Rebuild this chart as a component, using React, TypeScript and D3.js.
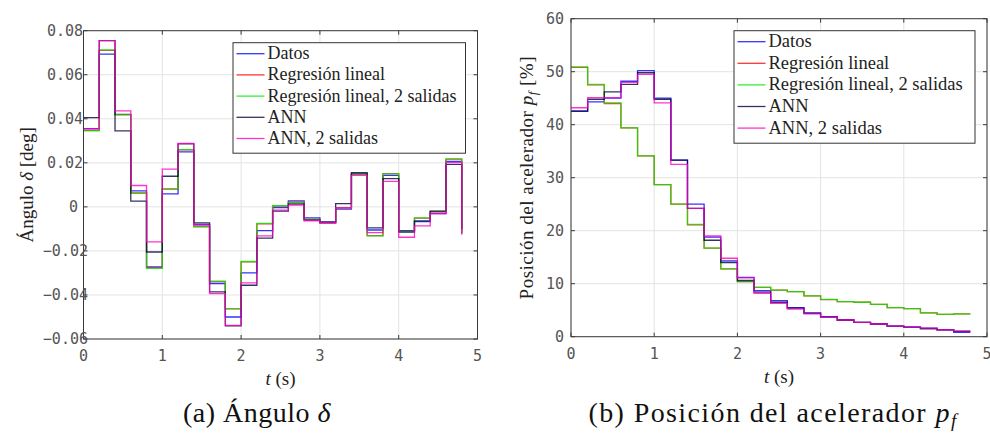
import React from "react";
import * as d3 from "d3";

const times = [0, 0.2, 0.4, 0.6, 0.8, 1.0, 1.2, 1.4, 1.6, 1.8, 2.0, 2.2, 2.4, 2.6, 2.8, 3.0, 3.2, 3.4, 3.6, 3.8, 4.0, 4.2, 4.4, 4.6, 4.8];

const seriesNames = ["Datos", "Regresión lineal", "Regresión lineal, 2 salidas", "ANN", "ANN, 2 salidas"];
const seriesColors = ["#0000ff", "#ff0000", "#00ee00", "#00003a", "#ff00c0"];

// (a) steering angle delta [deg]
const deltaDatos = [0.0355, 0.0694, 0.042, 0.0073, -0.0273, 0.0059, 0.025, -0.008, -0.0348, -0.05, -0.03, -0.0108, -0.0003, 0.0027, -0.005, -0.0067, -0.001, 0.015, -0.0105, 0.0143, -0.0108, -0.0067, -0.003, 0.0207, -0.012];
const deltaRL = [0.0347, 0.0711, 0.0419, 0.0063, -0.0277, 0.0081, 0.0259, -0.009, -0.0339, -0.0463, -0.025, -0.0077, 0.0004, 0.0021, -0.0057, -0.0071, -0.0004, 0.0149, -0.0131, 0.0151, -0.0111, -0.0051, -0.0021, 0.0217, -0.012];
const deltaRL2 = [0.0345, 0.0713, 0.0418, 0.0061, -0.0279, 0.0083, 0.026, -0.0091, -0.0338, -0.0462, -0.0248, -0.0075, 0.0005, 0.002, -0.0058, -0.007, -0.0003, 0.015, -0.0132, 0.015, -0.0112, -0.005, -0.0022, 0.0218, -0.012];
const deltaANN = [0.0405, 0.0755, 0.0345, 0.0026, -0.0205, 0.0139, 0.0286, -0.0073, -0.0386, -0.054, -0.0356, -0.0142, -0.0019, 0.0013, -0.006, -0.0072, 0.0015, 0.0155, -0.0095, 0.0128, -0.0115, -0.0064, -0.0019, 0.0193, -0.01];
const deltaANN2 = [0.0354, 0.0755, 0.0436, 0.0097, -0.0159, 0.0171, 0.0288, -0.0083, -0.0394, -0.0538, -0.0345, -0.0132, -0.0015, 0.0008, -0.0063, -0.0072, -0.0004, 0.0143, -0.0117, 0.0116, -0.0138, -0.0086, -0.003, 0.0202, -0.0127];

// (b) accelerator position p_f [%]
const pfDatos = [42.6, 44.3, 45.0, 48.2, 50.2, 45.0, 33.3, 25.0, 18.8, 14.3, 11.2, 8.7, 6.8, 5.5, 4.5, 3.8, 3.2, 2.7, 2.4, 2.0, 1.8, 1.6, 1.3, 0.8, 0.8];
const pfRL = [50.8, 47.5, 44.0, 39.4, 34.1, 28.7, 25.0, 21.1, 16.7, 12.8, 10.4, 9.3, 8.8, 8.5, 7.7, 7.0, 6.6, 6.5, 6.1, 5.5, 5.3, 4.5, 4.2, 4.3, 4.3];
const pfRL2 = [50.9, 47.6, 44.1, 39.4, 34.1, 28.7, 25.0, 21.2, 16.7, 12.8, 10.4, 9.3, 8.8, 8.5, 7.7, 7.05, 6.6, 6.5, 6.1, 5.5, 5.3, 4.5, 4.2, 4.3, 4.3];
const pfANN = [42.5, 44.8, 46.2, 47.6, 49.8, 44.8, 33.3, 24.2, 18.2, 14.0, 10.6, 8.4, 6.5, 5.4, 4.4, 3.7, 3.1, 2.7, 2.4, 2.0, 1.8, 1.5, 1.3, 1.0, 1.0];
const pfANN2 = [43.2, 45.1, 45.1, 48.0, 49.5, 44.1, 32.5, 24.2, 19.0, 14.8, 11.1, 8.2, 6.3, 5.2, 4.3, 3.7, 3.15, 2.7, 2.4, 2.0, 1.8, 1.6, 1.3, 1.1, 1.1];

const xTicks = [0, 1, 2, 3, 4, 5];
const deltaTicks = [-0.06, -0.04, -0.02, 0, 0.02, 0.04, 0.06, 0.08];
const deltaTickLabels = ["\u22120.06", "\u22120.04", "\u22120.02", "0", "0.02", "0.04", "0.06", "0.08"];
const pfTicks = [0, 10, 20, 30, 40, 50, 60];
const pfTickLabels = ["0", "10", "20", "30", "40", "50", "60"];

const SERIF = "'Liberation Serif', 'Times New Roman', serif";
const MONO = "'DejaVu Sans Mono', monospace";

type PanelProps = {
  x0: number; x1: number; y0: number; y1: number;
  yDomain: [number, number];
  yTicks: number[]; yTickLabels: string[];
  series: number[][];
  legendW: number; legendFont: number; legendStep: number;
  yLabel: React.ReactNode; yLabelX: number; yLabelSpacing: number;
  labelEndFn: (s: string) => number;
};

function Panel(p: PanelProps) {
  const x = d3.scaleLinear().domain([0, 5]).range([p.x0, p.x1]);
  const y = d3.scaleLinear().domain(p.yDomain).range([p.y1, p.y0]);
  const line = d3.line<[number, number]>().x((d) => x(d[0])).y((d) => y(d[1])).curve(d3.curveStepAfter);
  const tick = 4;
  const lx = p.x1 - 12 - p.legendW;
  const ly = p.y0 + 12;
  const lh = p.legendStep * 5 + 4.5;
  return (
    <g>
      {xTicks.map((t) => (
        <line key={"gx" + t} x1={x(t)} x2={x(t)} y1={p.y0} y2={p.y1} stroke="#e3e3e3" strokeWidth={1} />
      ))}
      {p.yTicks.map((t) => (
        <line key={"gy" + t} x1={p.x0} x2={p.x1} y1={y(t)} y2={y(t)} stroke="#e3e3e3" strokeWidth={1} />
      ))}
      {p.series.map((vals, i) => (
        <path
          key={"s" + i}
          d={line(times.map((t, k) => [t, vals[k]] as [number, number])) || ""}
          fill="none"
          stroke={seriesColors[i]}
          strokeOpacity={0.8}
          strokeWidth={1.3}
        />
      ))}
      <rect x={p.x0} y={p.y0} width={p.x1 - p.x0} height={p.y1 - p.y0} fill="none" stroke="#3a3a3a" strokeWidth={1} />
      {xTicks.map((t) => (
        <g key={"tx" + t}>
          <line x1={x(t)} x2={x(t)} y1={p.y1} y2={p.y1 - tick} stroke="#3a3a3a" />
          <line x1={x(t)} x2={x(t)} y1={p.y0} y2={p.y0 + tick} stroke="#3a3a3a" />
          <text x={x(t)} y={p.y1 + 22} textAnchor="middle" fontFamily={MONO} fontSize={15} fill="#555">
            {String(t)}
          </text>
        </g>
      ))}
      {p.yTicks.map((t, i) => (
        <g key={"ty" + t}>
          <line x1={p.x0} x2={p.x0 + tick} y1={y(t)} y2={y(t)} stroke="#3a3a3a" />
          <line x1={p.x1} x2={p.x1 - tick} y1={y(t)} y2={y(t)} stroke="#3a3a3a" />
          <text x={p.labelEndFn(p.yTickLabels[i])} y={y(t) + 5} textAnchor="end" fontFamily={MONO} fontSize={15} fill="#555">
            {p.yTickLabels[i]}
          </text>
        </g>
      ))}
      <text x={(p.x0 + p.x1) / 2} y={p.y1 + 46} textAnchor="middle" fontFamily={SERIF} fontSize={19} fill="#222">
        <tspan fontStyle="italic">t</tspan> (s)
      </text>
      <text
        transform={`translate(${p.yLabelX},${(p.y0 + p.y1) / 2}) rotate(-90)`}
        textAnchor="middle"
        fontFamily={SERIF}
        fontSize={19}
        letterSpacing={p.yLabelSpacing}
        fill="#222"
      >
        {p.yLabel}
      </text>
      <rect x={lx} y={ly} width={p.legendW} height={lh} fill="#fff" stroke="#333" strokeWidth={1} />
      {seriesNames.map((n, i) => {
        const yy = ly + 11 + i * p.legendStep;
        return (
          <g key={"lg" + i}>
            <line x1={lx + 3.5} x2={lx + 31.5} y1={yy} y2={yy} stroke={seriesColors[i]} strokeOpacity={0.8} strokeWidth={1.3} />
            <text x={lx + 34.5} y={yy + 5.5} fontFamily={SERIF} fontSize={p.legendFont} fill="#222">
              {n}
            </text>
          </g>
        );
      })}
    </g>
  );
}

export default function App() {
  return (
    <svg
      width={990}
      height={438}
      viewBox="0 0 990 438"
      style={{ position: "absolute", left: 0, top: 0, background: "#fff" }}
    >
      <rect x={0} y={0} width={990} height={438} fill="#fff" />
      <Panel
        x0={83.5}
        x1={477.5}
        y0={30.7}
        y1={339}
        yDomain={[-0.06, 0.08]}
        yTicks={deltaTicks}
        yTickLabels={deltaTickLabels}
        series={[deltaDatos, deltaRL, deltaRL2, deltaANN, deltaANN2]}
        legendW={232.5}
        legendFont={18}
        legendStep={21.2}
        yLabelX={33}
        yLabelSpacing={0}
        yLabel={
          <>
            Ángulo <tspan fontStyle="italic">δ</tspan> [deg]
          </>
        }
        labelEndFn={(s) => 78 + (s.includes(".") ? 5 : 0) + (s.startsWith("\u2212") ? 5 : 0)}
      />
      <Panel
        x0={571}
        x1={987}
        y0={18.7}
        y1={336.7}
        yDomain={[0, 60]}
        yTicks={pfTicks}
        yTickLabels={pfTickLabels}
        series={[pfDatos, pfRL, pfRL2, pfANN, pfANN2]}
        legendW={241}
        legendFont={18.5}
        legendStep={21.6}
        yLabelX={533}
        yLabelSpacing={0.5}
        yLabel={
          <>
            Posición del acelerador <tspan fontStyle="italic">p</tspan>
            <tspan fontStyle="italic" fontSize={13} dy={4}>f</tspan>
            <tspan dy={-4}> [%]</tspan>
          </>
        }
        labelEndFn={() => 564}
      />
      <text x={257} y={422} textAnchor="middle" fontFamily={SERIF} fontSize={28} letterSpacing={0.5} fill="#111">
        (a) Ángulo <tspan fontStyle="italic">δ</tspan>
      </text>
      <text x={773} y={422} textAnchor="middle" fontFamily={SERIF} fontSize={28} letterSpacing={1.4} fill="#111">
        (b) Posición del acelerador <tspan fontStyle="italic">p</tspan>
        <tspan fontStyle="italic" fontSize={19} dy={5}>f</tspan>
      </text>
    </svg>
  );
}
